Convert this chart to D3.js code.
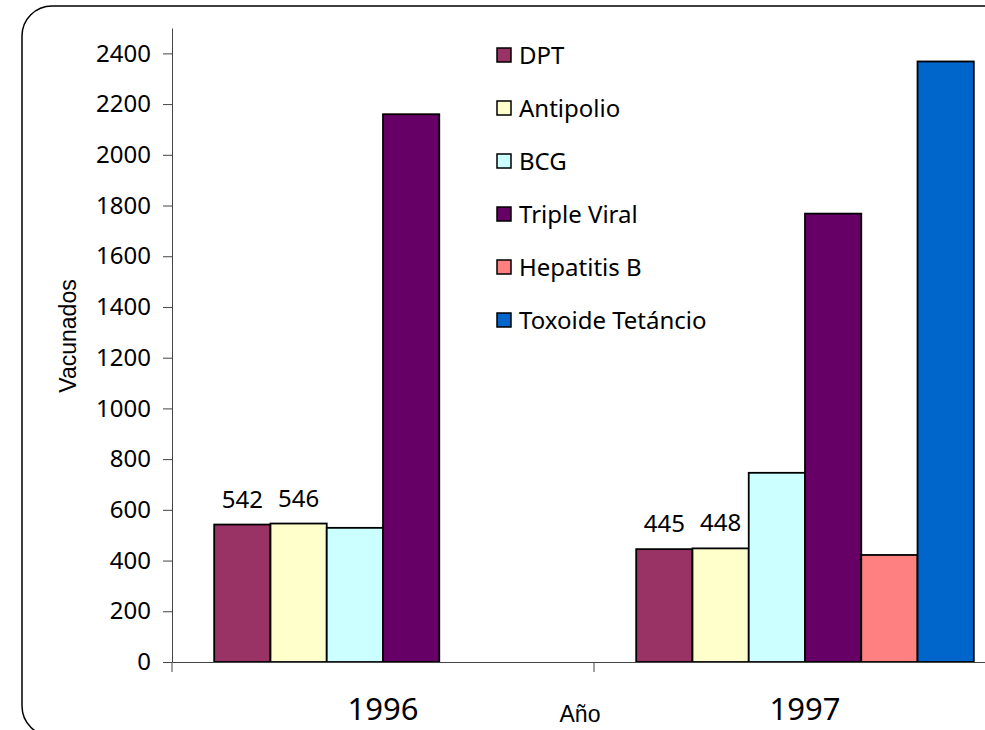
<!DOCTYPE html>
<html>
<head>
<meta charset="utf-8">
<script src="https://cdn.jsdelivr.net/npm/d3@7"></script>
<style>
  body { margin: 0; background: #fff; }
  svg { display: block; }
</style>
</head>
<body>
<svg width="985" height="730"></svg>
<script>
// data
var years = ["1996", "1997"];
var series = ["DPT", "Antipolio", "BCG", "Triple Viral", "Hepatitis B", "Toxoide Tetáncio"];
var colors = ["#993366", "#ffffcc", "#ccffff", "#660066", "#ff8080", "#0066cc"];
var values1996 = [542, 546, 529, 2160, null, null];
var values1997 = [445, 448, 746, 1768, 422, 2368];
var labelled = ["DPT", "Antipolio"];
var yTicks = [0, 200, 400, 600, 800, 1000, 1200, 1400, 1600, 1800, 2000, 2200, 2400];

function drawChart()
{
    var svg = d3.select("svg");
    var numFont = "'Noto Sans', sans-serif";

    // rounded frame, running off the right and bottom edges
    svg.append("rect")
        .attr("x", 22).attr("y", 6)
        .attr("width", 1000).attr("height", 730)
        .attr("rx", 30).attr("ry", 30)
        .attr("fill", "none")
        .attr("stroke", "#000")
        .attr("stroke-width", 1.5);

    var left = 172, top = 28, bottom = 662;
    var bandW = 422;

    var xScale = d3.scaleBand()
        .domain(years)
        .range([left, left + bandW * years.length])
        .padding(0);
    var inner = d3.scaleBand()
        .domain(series)
        .range([0, bandW])
        .paddingInner(0)
        .paddingOuter(0.75);
    var yScale = d3.scaleLinear()
        .domain([0, 2500])
        .range([bottom, top]);

    var rows = [];
    years.forEach(function (yr, i) {
        var vals = i == 0 ? values1996 : values1997;
        series.forEach(function (s, j) {
            if (vals[j] != null)
                rows.push({year: yr, name: s, value: vals[j], color: colors[j]});
        });
    });

    var chart = svg.append("g");

    chart.selectAll("rect.bar")
        .data(rows)
        .enter()
        .append("rect")
        .attr("class", "bar")
        .attr("x", function (d) { return xScale(d.year) + inner(d.name); })
        .attr("y", function (d) { return yScale(d.value); })
        .attr("width", inner.bandwidth())
        .attr("height", function (d) { return yScale(0) - yScale(d.value); })
        .attr("fill", function (d) { return d.color; })
        .attr("stroke", "#000")
        .attr("stroke-width", 1.8);

    chart.selectAll("text.val")
        .data(rows.filter(function (d) { return labelled.indexOf(d.name) >= 0; }))
        .enter()
        .append("text")
        .attr("class", "val")
        .attr("x", function (d) { return xScale(d.year) + inner(d.name) + inner.bandwidth() / 2; })
        .attr("y", function (d) { return yScale(d.value) - 17; })
        .attr("text-anchor", "middle")
        .style("font-family", numFont)
        .style("font-size", "24px")
        .text(function (d) { return d.value; });

    // y axis
    var yAxis = d3.axisLeft(yScale)
        .tickValues(yTicks)
        .tickFormat(d3.format("d"))
        .tickSize(9)
        .tickSizeOuter(0)
        .tickPadding(12);
    var yg = svg.append("g")
        .attr("transform", "translate(" + left + ",0)")
        .call(yAxis);
    yg.selectAll("text")
        .style("font-family", numFont)
        .style("font-size", "24px")
        .attr("fill", "#000");

    // x axis: labels at band centres, ticks at band edges
    var xAxis = d3.axisBottom(xScale).tickSize(0).tickSizeOuter(0).tickPadding(36);
    var xg = svg.append("g")
        .attr("transform", "translate(0," + bottom + ")")
        .call(xAxis);
    xg.selectAll("text")
        .style("font-family", numFont)
        .style("font-size", "31px")
        .attr("fill", "#000");
    var edges = years.map(function (y) { return xScale(y); });
    edges.push(xScale(years[years.length - 1]) + xScale.bandwidth());
    xg.selectAll("line.edge")
        .data(edges)
        .enter()
        .append("line")
        .attr("class", "edge")
        .attr("x1", function (d) { return d; })
        .attr("x2", function (d) { return d; })
        .attr("y1", 0).attr("y2", 10);

    svg.selectAll(".domain, .tick line").attr("stroke", "#444");
    xg.selectAll("line.edge").attr("stroke", "#444");

    // axis titles
    svg.append("text")
        .attr("transform", "translate(76,336) rotate(-90)")
        .attr("text-anchor", "middle")
        .style("font-family", "'Liberation Sans', Arial, sans-serif")
        .style("font-size", "23px")
        .text("Vacunados");
    svg.append("text")
        .attr("x", 580).attr("y", 722)
        .attr("text-anchor", "middle")
        .style("font-family", "'Liberation Sans', Arial, sans-serif")
        .style("font-size", "23px")
        .text("Año");

    // legend
    var legend = svg.append("g").attr("transform", "translate(497,55)");
    var item = legend.selectAll("g")
        .data(series)
        .enter()
        .append("g")
        .attr("transform", function (d, i) { return "translate(0," + (i * 53) + ")"; });
    item.append("rect")
        .attr("x", 0).attr("y", -7)
        .attr("width", 14).attr("height", 14)
        .attr("fill", function (d, i) { return colors[i]; })
        .attr("stroke", "#000")
        .attr("stroke-width", 1.5);
    item.append("text")
        .attr("x", 22).attr("y", 0)
        .attr("dy", "0.36em")
        .style("font-family", numFont)
        .style("font-size", "24px")
        .text(function (d) { return d; });
}

drawChart();
</script>
</body>
</html>
